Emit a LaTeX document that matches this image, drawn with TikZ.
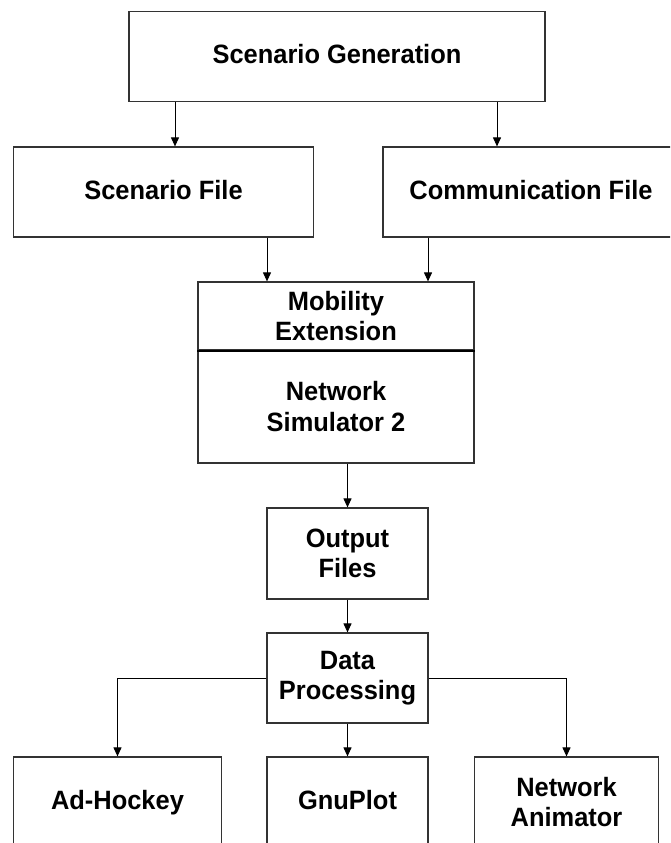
\documentclass[tikz,border=0pt]{standalone}
\usepackage{fontspec}
\setmainfont{Liberation Sans}[FakeStretch=0.96]
\usetikzlibrary{arrows.meta}
\begin{document}
\begin{tikzpicture}[x=1pt,y=-1pt,
  box/.style={draw=black!80, line width=1.2pt, inner sep=0pt, align=center,
    font=\bfseries\fontsize{26.5}{30.5}\selectfont},
  oneline/.style={text height=19pt, text depth=5pt},
  arr/.style={draw=black, line width=1pt, -{Triangle[length=9pt,width=8pt]}},
  divider/.style={draw=black, line width=2.2pt}]
  \useasboundingbox (0,0) rectangle (670,843);
  \clip (0,0) rectangle (670,843);

  % column positions of the vertical connectors
  \coordinate (xa) at (175,0);
  \coordinate (xb) at (497,0);
  \coordinate (xc) at (267,0);
  \coordinate (xd) at (428,0);

  % boxes
  \node[box, oneline, minimum width=416pt, minimum height=90pt] (gen) at (337,56.5) {Scenario Generation};
  \node[box, oneline, minimum width=300pt, minimum height=90pt] (sfile) at (163.5,192) {Scenario File};
  \node[box, oneline, minimum width=296pt, minimum height=90pt] (cfile) at (531,192) {Communication File};
  \node[box, minimum width=276pt, minimum height=68pt] (mob) at (336,316) {Mobility\\Extension};
  \node[box, minimum width=276pt, minimum height=113pt] (ns) at (336,406.5) {Network\\Simulator 2};
  \node[box, minimum width=161pt, minimum height=91pt] (out) at (347.5,553.5) {Output\\Files};
  \node[box, minimum width=161pt, minimum height=90pt] (dp) at (347.5,678) {Data\\Processing};
  \node[box, oneline, minimum width=208pt, minimum height=90pt] (ah) at (117.5,802) {Ad-Hockey};
  \node[box, oneline, minimum width=161pt, minimum height=90pt] (gp) at (347.5,802) {GnuPlot};
  \node[box, minimum width=184pt, minimum height=90pt] (na) at (566.5,802) {Network\\Animator};

  % separator between the two layers of the simulator block
  \draw[divider] (mob.south west) -- (mob.south east);

  % connectors
  \draw[arr] (xa |- gen.south) -- (xa |- sfile.north);
  \draw[arr] (xb |- gen.south) -- (xb |- cfile.north);
  \draw[arr] (xc |- sfile.south) -- (xc |- mob.north);
  \draw[arr] (xd |- cfile.south) -- (xd |- mob.north);
  \draw[arr] (out.north |- ns.south) -- (out.north);
  \draw[arr] (out.south) -- (dp.north);
  \draw[arr] (dp.west) -| (ah.north);
  \draw[arr] (dp.south) -- (gp.north);
  \draw[arr] (dp.east) -| (na.north);
\end{tikzpicture}
\end{document}
